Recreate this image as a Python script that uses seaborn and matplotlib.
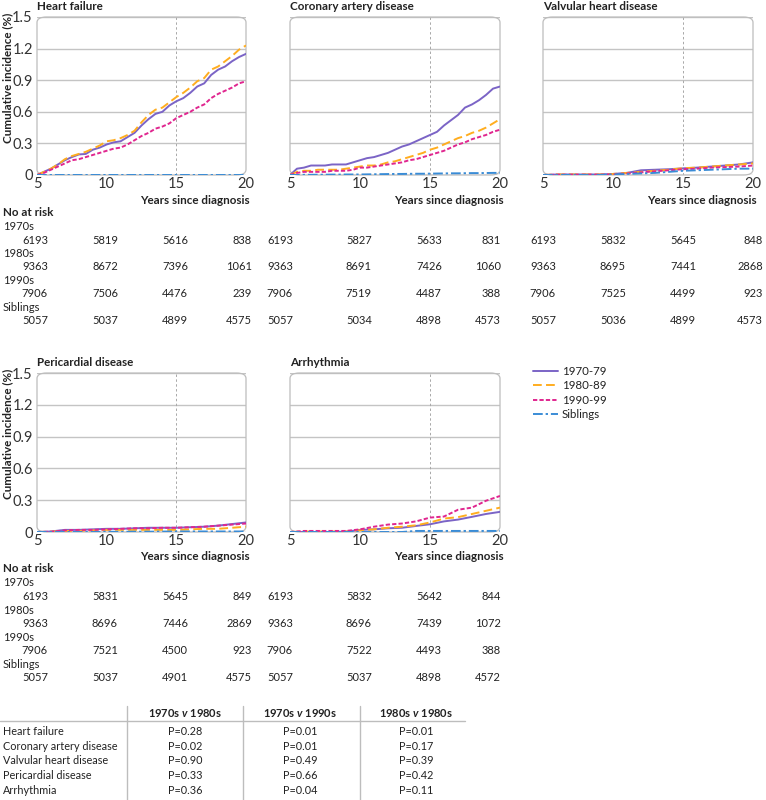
import numpy as np
import pandas as pd
import matplotlib
matplotlib.use("Agg")
import matplotlib.pyplot as plt
import seaborn as sns
from matplotlib.patches import FancyBboxPatch
from matplotlib.lines import Line2D

# ---------------- data ----------------
COHORTS = ["1970-79", "1980-89", "1990-99", "Siblings"]

YEARS_HALF = [5, 5.5, 6, 6.5, 7, 7.5, 8, 8.5, 9, 9.5, 10, 10.5, 11, 11.5, 12, 12.5,
              13, 13.5, 14, 14.5, 15, 15.5, 16, 16.5, 17, 17.5, 18, 18.5, 19, 19.5, 20]
YEARS_FULL = [5, 6, 7, 8, 9, 10, 11, 12, 13, 14, 15, 16, 17, 18, 19, 20]

# Heart failure
HF_1970 = [0, 0.03, 0.06, 0.10, 0.14, 0.17, 0.195, 0.20, 0.24, 0.26, 0.29, 0.31, 0.32, 0.36, 0.40, 0.47,
           0.53, 0.58, 0.60, 0.66, 0.70, 0.73, 0.78, 0.84, 0.87, 0.95, 1.00, 1.03, 1.08, 1.12, 1.15]
HF_1980 = [0, 0.03, 0.06, 0.10, 0.15, 0.18, 0.20, 0.22, 0.25, 0.28, 0.32, 0.33, 0.35, 0.38, 0.42, 0.50,
           0.57, 0.62, 0.64, 0.69, 0.74, 0.78, 0.83, 0.89, 0.92, 1.00, 1.03, 1.08, 1.13, 1.19, 1.23]
HF_1990 = [0, 0.02, 0.05, 0.08, 0.11, 0.14, 0.15, 0.17, 0.19, 0.21, 0.23, 0.25, 0.26, 0.29, 0.33, 0.37,
           0.40, 0.44, 0.46, 0.49, 0.54, 0.57, 0.60, 0.64, 0.67, 0.73, 0.77, 0.80, 0.83, 0.87, 0.89]
HF_SIB = [0, 0, 0, 0, 0, 0, 0, 0, 0, 0, 0, 0, 0, 0, 0, 0,
          0, 0, 0, 0, 0, 0, 0, 0, 0, 0, 0, 0, 0, 0, 0]

# Coronary artery disease
CAD_1970 = [0, 0.06, 0.07, 0.09, 0.09, 0.09, 0.10, 0.10, 0.10, 0.12, 0.14, 0.16, 0.17, 0.19, 0.21, 0.24,
            0.27, 0.29, 0.32, 0.35, 0.38, 0.41, 0.47, 0.52, 0.57, 0.64, 0.67, 0.71, 0.76, 0.82, 0.84]
CAD_1980 = [0, 0.03, 0.04, 0.04, 0.05, 0.05, 0.05, 0.05, 0.06, 0.07, 0.08, 0.09, 0.09, 0.10, 0.12, 0.13,
            0.15, 0.17, 0.19, 0.21, 0.24, 0.26, 0.29, 0.32, 0.35, 0.37, 0.40, 0.42, 0.45, 0.49, 0.53]
CAD_1990 = [0, 0.02, 0.03, 0.03, 0.03, 0.03, 0.04, 0.04, 0.04, 0.05, 0.07, 0.07, 0.08, 0.09, 0.10, 0.11,
            0.12, 0.14, 0.15, 0.17, 0.19, 0.21, 0.23, 0.26, 0.29, 0.31, 0.34, 0.36, 0.38, 0.41, 0.43]
CAD_SIB = [0, 0, 0.002, 0.002, 0.003, 0.003, 0.004, 0.004, 0.005, 0.005, 0.005, 0.006, 0.007, 0.008, 0.009, 0.010,
           0.010, 0.011, 0.012, 0.012, 0.013, 0.014, 0.015, 0.016, 0.016, 0.017, 0.018, 0.018, 0.019, 0.020, 0.020]

# Valvular heart disease
VHD_1970 = [0, 0.005, 0.005, 0.005, 0.005, 0.01, 0.02, 0.045, 0.05, 0.055, 0.063, 0.07, 0.08, 0.09, 0.10, 0.12]
VHD_1980 = [0, 0.005, 0.005, 0.005, 0.005, 0.01, 0.02, 0.03, 0.04, 0.05, 0.065, 0.07, 0.08, 0.09, 0.10, 0.11]
VHD_1990 = [0, 0.003, 0.003, 0.003, 0.003, 0.005, 0.015, 0.025, 0.035, 0.045, 0.055, 0.06, 0.07, 0.075, 0.08, 0.09]
VHD_SIB = [0, 0, 0, 0, 0, 0.005, 0.01, 0.015, 0.02, 0.03, 0.04, 0.045, 0.05, 0.055, 0.06, 0.06]

# Pericardial disease
PER_1970 = [0, 0.005, 0.02, 0.02, 0.025, 0.03, 0.03, 0.035, 0.04, 0.04, 0.04, 0.045, 0.05, 0.06, 0.075, 0.09]
PER_1980 = [0, 0.003, 0.01, 0.01, 0.015, 0.02, 0.02, 0.02, 0.02, 0.02, 0.02, 0.025, 0.03, 0.03, 0.04, 0.05]
PER_1990 = [0, 0.003, 0.015, 0.02, 0.02, 0.025, 0.03, 0.035, 0.035, 0.04, 0.04, 0.045, 0.05, 0.06, 0.07, 0.08]
PER_SIB = [0, 0, 0, 0, 0, 0.002, 0.002, 0.003, 0.003, 0.004, 0.005, 0.005, 0.005, 0.005, 0.005, 0.005]

# Arrhythmia
ARR_1970 = [0, 0, 0, 0, 0.003, 0.02, 0.025, 0.035, 0.04, 0.057, 0.073, 0.10, 0.117, 0.143, 0.17, 0.19]
ARR_1980 = [0, 0.005, 0.005, 0.005, 0.005, 0.016, 0.025, 0.04, 0.05, 0.063, 0.09, 0.127, 0.14, 0.17, 0.20, 0.23]
ARR_1990 = [0, 0.01, 0.01, 0.01, 0.01, 0.025, 0.05, 0.07, 0.08, 0.10, 0.136, 0.146, 0.21, 0.23, 0.295, 0.34]
ARR_SIB = [0, 0, 0, 0, 0, 0, 0, 0, 0, 0.01, 0.01, 0.01, 0.01, 0.01, 0.01, 0.01]

PANEL_TITLES = ["Heart failure", "Coronary artery disease", "Valvular heart disease",
                "Pericardial disease", "Arrhythmia"]

# Numbers at risk (rows: 1970s, 1980s, 1990s, Siblings; columns: years 5, 10, 15, 20)
RISK_LABELS = ["1970s", "1980s", "1990s", "Siblings"]
RISK_HF = [[6193, 5819, 5616, 838], [9363, 8672, 7396, 1061], [7906, 7506, 4476, 239], [5057, 5037, 4899, 4575]]
RISK_CAD = [[6193, 5827, 5633, 831], [9363, 8691, 7426, 1060], [7906, 7519, 4487, 388], [5057, 5034, 4898, 4573]]
RISK_VHD = [[6193, 5832, 5645, 848], [9363, 8695, 7441, 2868], [7906, 7525, 4499, 923], [5057, 5036, 4899, 4573]]
RISK_PER = [[6193, 5831, 5645, 849], [9363, 8696, 7446, 2869], [7906, 7521, 4500, 923], [5057, 5037, 4901, 4575]]
RISK_ARR = [[6193, 5832, 5642, 844], [9363, 8696, 7439, 1072], [7906, 7522, 4493, 388], [5057, 5037, 4898, 4572]]

# P value table
TABLE_OUTCOMES = ["Heart failure", "Coronary artery disease", "Valvular heart disease",
                  "Pericardial disease", "Arrhythmia"]
TABLE_HEADERS = [r"1970s $\mathit{v}$ 1980s", r"1970s $\mathit{v}$ 1990s", r"1980s $\mathit{v}$ 1980s"]
P_70_80 = ["P=0.28", "P=0.02", "P=0.90", "P=0.33", "P=0.36"]
P_70_90 = ["P=0.01", "P=0.01", "P=0.49", "P=0.66", "P=0.04"]
P_80_90 = ["P=0.01", "P=0.17", "P=0.39", "P=0.42", "P=0.11"]

# ---------------- style ----------------
sns.set_theme(style="white")
FONT = ["Lato", "DejaVu Sans"]
plt.rcParams["font.family"] = FONT
plt.rcParams["mathtext.fontset"] = "custom"
plt.rcParams["mathtext.it"] = "Lato:italic:bold"
plt.rcParams["mathtext.rm"] = "Lato:bold"
plt.rcParams["mathtext.bf"] = "Lato:bold"

COLORS = {"1970-79": "#7b64c6", "1980-89": "#ffad1f", "1990-99": "#e0268f", "Siblings": "#3a8cd6"}
DASHES = {"1970-79": "", "1980-89": (4.5, 2.2), "1990-99": (2.2, 1.1), "Siblings": (5.0, 1.5, 1.2, 1.5)}
TXT = "#222222"
GRID = "#c4c4c4"
FS_BOLD = 8.4
FS_NUM = 8.0
FS_TAB = 7.8

W, H = 766, 800
fig = plt.figure(figsize=(W / 100, H / 100), dpi=100)


def fx(x):
    return x / W


def fy(y):
    return 1 - y / H


def make_ax(left, right, top, bottom):
    return fig.add_axes([fx(left), fy(bottom), (right - left) / W, (bottom - top) / H])


def long_df(years, series):
    rows = []
    for name, vals in zip(COHORTS, series):
        for x, v in zip(years, vals):
            rows.append((x, v, name))
    return pd.DataFrame(rows, columns=["year", "incidence", "cohort"])


def draw_panel(ax, years, series, title, show_ylabels, top_px):
    df = long_df(years, series)
    ax.axvline(15, color="#a8a8a8", lw=0.7, ls=(0, (2.5, 2.5)), zorder=1)
    sns.lineplot(data=df, x="year", y="incidence", hue="cohort", style="cohort",
                 hue_order=COHORTS, style_order=COHORTS, palette=COLORS, dashes=DASHES,
                 estimator=None, lw=1.4, legend=False, ax=ax, zorder=3)
    ax.set_xlim(5, 20)
    ax.set_ylim(0, 1.5)
    ax.set_xticks([5, 10, 15, 20])
    ax.set_yticks([0, 0.3, 0.6, 0.9, 1.2, 1.5])
    ax.set_yticklabels(["0", "0.3", "0.6", "0.9", "1.2", "1.5"] if show_ylabels else [])
    ax.grid(axis="y", color=GRID, lw=1.0)
    ax.grid(axis="x", visible=False)
    ax.set_axisbelow(True)
    ax.tick_params(axis="both", length=0, labelsize=10.5, colors="#333333")
    ax.tick_params(axis="x", pad=1.5)
    ax.tick_params(axis="y", pad=3)
    for s in ax.spines.values():
        s.set_visible(False)
    ax.set_xlabel("")
    ax.set_ylabel("")
    frame = FancyBboxPatch((0, 0), 1, 1, boxstyle="round,pad=0,rounding_size=0.045",
                           transform=ax.transAxes, fill=False, ec="#bdbdbd", lw=0.9,
                           clip_on=False, zorder=2, mutation_aspect=0.76)
    ax.add_patch(frame)
    pos = ax.get_position()
    fig.text(pos.x0, fy(top_px - 10), title, ha="left", va="center",
             fontsize=FS_BOLD, fontweight="bold", color=TXT)
    fig.text(pos.x1 + fx(4), fy(top_px + 158 + 25), "Years since diagnosis", ha="right",
             va="center", fontsize=FS_BOLD, fontweight="bold", color=TXT)


panels = [
    ((37, 246, 17, 175), YEARS_HALF, [HF_1970, HF_1980, HF_1990, HF_SIB], True),
    ((290, 500, 17, 175), YEARS_HALF, [CAD_1970, CAD_1980, CAD_1990, CAD_SIB], False),
    ((543, 753, 17, 175), YEARS_FULL, [VHD_1970, VHD_1980, VHD_1990, VHD_SIB], False),
    ((37, 246, 373, 532), YEARS_FULL, [PER_1970, PER_1980, PER_1990, PER_SIB], True),
    ((290, 500, 373, 532), YEARS_FULL, [ARR_1970, ARR_1980, ARR_1990, ARR_SIB], False),
]
for (box, yrs, ser, showy), title in zip(panels, PANEL_TITLES):
    ax = make_ax(*box)
    draw_panel(ax, yrs, ser, title, showy, box[2])

# y labels
for yc in (78, 434):
    fig.text(fx(8), fy(yc), "Cumulative incidence (%)", rotation=90, ha="center", va="center",
             fontsize=FS_BOLD, fontweight="bold", color=TXT)

# numbers at risk
def risk_block(y_head, label_ys, value_ys, tables, col_rights):
    fig.text(fx(3), fy(y_head), "No at risk", ha="left", va="center", fontsize=FS_BOLD,
             fontweight="bold", color=TXT)
    for i, lab in enumerate(RISK_LABELS):
        fig.text(fx(3), fy(label_ys[i]), lab, ha="left", va="center", fontsize=FS_NUM, color=TXT)
        for tab, rights in zip(tables, col_rights):
            for j, r in enumerate(rights):
                fig.text(fx(r), fy(value_ys[i]), str(tab[i][j]), ha="right", va="center",
                         fontsize=FS_NUM, color=TXT)


COLS_P1 = [48, 118, 188, 252]
COLS_P2 = [293, 372, 442, 501]
COLS_P3 = [556, 626, 696, 763]
risk_block(212, [226, 253.3, 280, 307.3], [240.7, 266.7, 294, 320.7],
           [RISK_HF, RISK_CAD, RISK_VHD], [COLS_P1, COLS_P2, COLS_P3])
risk_block(568.3, [582.7, 610, 637.3, 664], [596.7, 623.3, 650.7, 677.3],
           [RISK_PER, RISK_ARR], [COLS_P1, COLS_P2])

# legend
handles = [Line2D([], [], color=COLORS[c], lw=1.4,
                  **({"dashes": DASHES[c]} if DASHES[c] else {})) for c in COHORTS]
fig.legend(handles, COHORTS, loc="upper left", bbox_to_anchor=(fx(533), fy(366)),
           frameon=False, fontsize=8.3, handlelength=2.2, handletextpad=0.3,
           labelspacing=0.3, borderpad=0, borderaxespad=0, labelcolor=TXT)

# P value table
col_centers = [185, 300, 416]
for hdr, cx in zip(TABLE_HEADERS, col_centers):
    fig.text(fx(cx), fy(713), hdr, ha="center", va="center", fontsize=FS_TAB + 0.2,
             fontweight="bold", color=TXT)
row_ys = [731.5, 746, 761, 775.5, 790]
for i, name in enumerate(TABLE_OUTCOMES):
    fig.text(fx(3), fy(row_ys[i]), name, ha="left", va="center", fontsize=FS_TAB, color=TXT)
    for col, cx in zip([P_70_80, P_70_90, P_80_90], col_centers):
        fig.text(fx(cx), fy(row_ys[i]), col[i], ha="center", va="center", fontsize=FS_TAB, color=TXT)
fig.add_artist(Line2D([fx(0), fx(465)], [fy(720.5), fy(720.5)], color="#bdbdbd", lw=1.0))
for vx in (127, 243, 360):
    fig.add_artist(Line2D([fx(vx), fx(vx)], [fy(706), fy(800)], color="#bdbdbd", lw=1.0))

fig.savefig("out.png", dpi=100)
